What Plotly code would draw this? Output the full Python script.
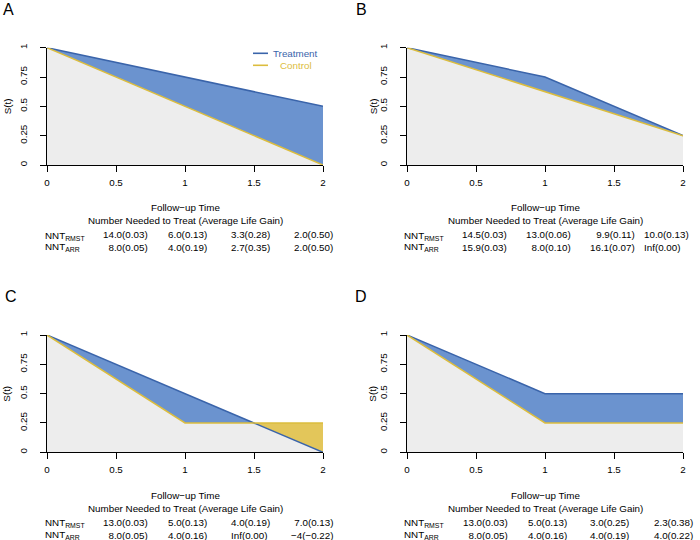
import plotly.graph_objects as go

### data ---------------------------------------------------------------------------------------------------------------

TIMES = [0, 1, 2]

treat_a = [1.0, 0.75, 0.5]
ctrl_a = [1.0, 0.5, 0.0]
treat_b = [1.0, 0.75, 0.25]
ctrl_b = [1.0, 0.625, 0.25]
treat_c = [1.0, 0.5, 0.0]
ctrl_c = [1.0, 0.25, 0.25]
treat_d = [1.0, 0.5, 0.5]
ctrl_d = [1.0, 0.25, 0.25]

nnt_rmst_a = ["14.0(0.03)", "6.0(0.13)", "3.3(0.28)", "2.0(0.50)"]
nnt_arr_a = ["8.0(0.05)", "4.0(0.19)", "2.7(0.35)", "2.0(0.50)"]
nnt_rmst_b = ["14.5(0.03)", "13.0(0.06)", "9.9(0.11)", "10.0(0.13)"]
nnt_arr_b = ["15.9(0.03)", "8.0(0.10)", "16.1(0.07)", "Inf(0.00)"]
nnt_rmst_c = ["13.0(0.03)", "5.0(0.13)", "4.0(0.19)", "7.0(0.13)"]
nnt_arr_c = ["8.0(0.05)", "4.0(0.16)", "Inf(0.00)", "\u22124(\u22120.22)"]
nnt_rmst_d = ["13.0(0.03)", "5.0(0.13)", "3.0(0.25)", "2.3(0.38)"]
nnt_arr_d = ["8.0(0.05)", "4.0(0.16)", "4.0(0.19)", "4.0(0.22)"]

X_TICKS = [0, 0.5, 1, 1.5, 2]
X_TICKTEXT = ["0", "0.5", "1", "1.5", "2"]
Y_TICKS = [0, 0.25, 0.5, 0.75, 1]
Y_TICKTEXT = ["0", "0.25", "0.5", "0.75", "1"]

### style --------------------------------------------------------------------------------------------------------------

W, H = 700, 540
FONT = "Liberation Sans"
FS = 9.8
GRAY = "#ededed"
BLUE_FILL = "#6b93cf"
BLUE_LINE = "#3a64aa"
GOLD_FILL = "#e3c65a"
GOLD_LINE = "#dcbd3e"

# panel: letter, data, plot origin (left px, bottom px), letter pos, S(t) x, column right edges
panels = [
    ("A", treat_a, ctrl_a, nnt_rmst_a, nnt_arr_a, 47, 165, (8, 9), 7, [103, 162, 225, 288]),
    ("B", treat_b, ctrl_b, nnt_rmst_b, nnt_arr_b, 407, 165, (361, 9), 373, [102, 166, 230, 284]),
    ("C", treat_c, ctrl_c, nnt_rmst_c, nnt_arr_c, 47, 452.3, (11, 296), 7, [103, 162, 225, 288]),
    ("D", treat_d, ctrl_d, nnt_rmst_d, nnt_arr_d, 407, 452.3, (361, 296), 373, [102.6, 161.6, 224.3, 288.3]),
]
PW, PH = 276, 117.3


def px(x):
    return x / W


def py(y):
    return 1 - y / H


def envelope(t, a, b):
    # insert crossing points so the lower envelope is exact
    xs, aa, bb = [t[0]], [a[0]], [b[0]]
    for i in range(len(t) - 1):
        d0, d1 = a[i] - b[i], a[i + 1] - b[i + 1]
        if d0 * d1 < 0:
            f = d0 / (d0 - d1)
            xc = t[i] + f * (t[i + 1] - t[i])
            yc = a[i] + f * (a[i + 1] - a[i])
            xs.append(xc)
            aa.append(yc)
            bb.append(yc)
        xs.append(t[i + 1])
        aa.append(a[i + 1])
        bb.append(b[i + 1])
    lo = [min(p, q) for p, q in zip(aa, bb)]
    return xs, aa, bb, lo


def note(text, x, y, xanchor="center", **kw):
    d = dict(text=text, x=px(x), y=py(y), xref="paper", yref="paper", showarrow=False,
             xanchor=xanchor, yanchor="middle", font=dict(family=FONT, size=FS, color="black"))
    d.update(kw)
    return d


fig = go.Figure()
annotations = []
shapes = []

for k, (letter, tr, ct, rmst, arr, x0, yb, lpos, st_x, cols) in enumerate(panels):
    n = "" if k == 0 else str(k + 1)
    xa, ya = "x" + n, "y" + n
    xs, tt, cc, lo = envelope(TIMES, tr, ct)

    nofill = dict(width=0)
    fig.add_trace(go.Scatter(x=xs, y=lo, mode="lines", line=nofill, fill="tozeroy",
                             fillcolor=GRAY, xaxis=xa, yaxis=ya, showlegend=False, hoverinfo="skip"))
    fig.add_trace(go.Scatter(x=xs, y=tt, mode="lines", line=nofill, fill="tonexty",
                             fillcolor=BLUE_FILL, xaxis=xa, yaxis=ya, showlegend=False, hoverinfo="skip"))
    fig.add_trace(go.Scatter(x=xs, y=lo, mode="lines", line=nofill,
                             xaxis=xa, yaxis=ya, showlegend=False, hoverinfo="skip"))
    fig.add_trace(go.Scatter(x=xs, y=cc, mode="lines", line=nofill, fill="tonexty",
                             fillcolor=GOLD_FILL, xaxis=xa, yaxis=ya, showlegend=False, hoverinfo="skip"))
    fig.add_trace(go.Scatter(x=TIMES, y=tr, mode="lines", line=dict(color=BLUE_LINE, width=1.5),
                             xaxis=xa, yaxis=ya, showlegend=False, cliponaxis=False))
    fig.add_trace(go.Scatter(x=TIMES, y=ct, mode="lines", line=dict(color=GOLD_LINE, width=1.5),
                             xaxis=xa, yaxis=ya, showlegend=False, cliponaxis=False))

    axis_common = dict(showgrid=False, zeroline=False, showline=True, linecolor="black", linewidth=1,
                       ticks="outside", ticklen=6, tickcolor="black", tickwidth=1, automargin=False,
                       tickfont=dict(family=FONT, size=FS, color="black"), fixedrange=True)
    fig.update_layout({
        "xaxis" + n: dict(axis_common, domain=[px(x0), px(x0 + PW)], range=[0, 2],
                          tickvals=X_TICKS, ticktext=X_TICKTEXT, anchor=ya, ticklabelstandoff=2),
        "yaxis" + n: dict(axis_common, domain=[py(yb), py(yb - PH)], range=[0, 1],
                          tickvals=Y_TICKS, ticktext=Y_TICKTEXT, tickangle=-90, anchor=xa,
                          ticklabelstandoff=9),
    })

    annotations.append(note(letter, lpos[0], lpos[1], font=dict(family=FONT, size=16, color="black")))
    annotations.append(note("S(t)", st_x, yb - PH / 2, textangle=-90))
    annotations.append(note("Follow\u2212up Time", x0 + PW / 2, yb + 42.7))
    annotations.append(note("Number Needed to Treat (Average Life Gain)", x0 + PW / 2, yb + 55.7))
    lab_x = x0 - 4.5 if x0 < 300 else x0 - 5.3
    annotations.append(note("NNT<sub>RMST</sub>", lab_x, yb + 70.5, xanchor="left"))
    annotations.append(note("NNT<sub>ARR</sub>", lab_x, yb + 82.5, xanchor="left"))
    for j in range(4):
        left = "Inf" in rmst[j] or "Inf" in arr[j]
        annotations.append(note(rmst[j] + "<br>" + arr[j], x0 + cols[j], yb + 76.5, xanchor="right",
                                align="left" if left else "right"))

# legend (panel A only)
for label, col, yy in [("Treatment", BLUE_LINE, 53.3), ("Control", GOLD_LINE, 65.3)]:
    shapes.append(dict(type="line", xref="paper", yref="paper", x0=px(253), x1=px(268),
                       y0=py(yy), y1=py(yy), line=dict(color=col, width=1.6)))
    annotations.append(note(label, 295.5, yy, font=dict(family=FONT, size=FS, color=col)))

fig.update_layout(
    width=W, height=H,
    margin=dict(l=0, r=0, t=0, b=0, autoexpand=False),
    paper_bgcolor="white", plot_bgcolor="white",
    annotations=annotations, shapes=shapes,
    showlegend=False,
)

fig.write_html("out.html", config={"displayModeBar": False},
               post_script="document.body.style.margin='0';")
